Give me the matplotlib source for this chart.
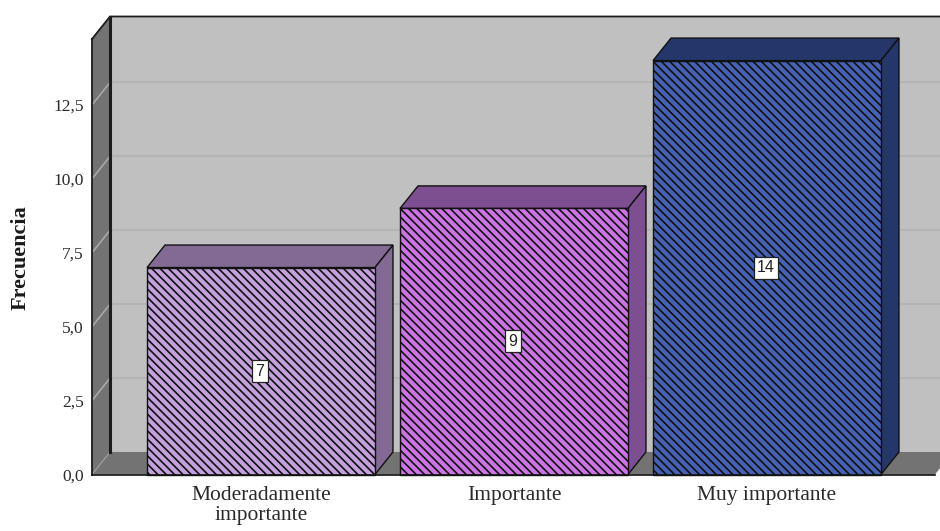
import matplotlib
matplotlib.use('Agg')
import matplotlib.pyplot as plt
from matplotlib.patches import Polygon

categories = ['Moderadamente\nimportante', 'Importante', 'Muy importante']
values = [7, 9, 14]
yticks = [0, 2.5, 5, 7.5, 10, 12.5]
ytick_labels = ['0,0', '2,5', '5,0', '7,5', '10,0', '12,5']

front_colors = ['#c4a0dc', '#cc74e4', '#4562b4']
shade_colors = ['#826a94', '#7e4f90', '#25366b']

# depth of the fake 3d box, in data units
DX = 0.0711
DY = 0.761
BAR_W = 0.901
X0, X1 = -0.668, 2.664
Y0, Y1 = 0, 14.73

plt.rcParams['font.family'] = ['Liberation Serif', 'DejaVu Serif']
plt.rcParams['hatch.linewidth'] = 1.2

fig = plt.figure(figsize=(9.4, 5.31), dpi=100)
ax = fig.add_axes([92/940, (531-474.5)/531, 843/940, (474.5-39)/531])
ax.set_xlim(X0, X1)
ax.set_ylim(Y0, Y1)
ax.set_facecolor('none')


def poly(pts, fc, ec='none', lw=0, z=1):
    ax.add_patch(Polygon(pts, closed=True, facecolor=fc, edgecolor=ec,
                         linewidth=lw, zorder=z, clip_on=False))


# back wall, side wall and floor
xb = X0 + DX
poly([(xb, DY), (X1 + DX, DY), (X1 + DX, Y1 + DY), (xb, Y1 + DY)], '#c0c0c0', z=1)
poly([(X0, 0), (xb, DY), (xb, Y1 + DY), (X0, Y1)], '#737373', z=1)
poly([(X0, 0), (X1, 0), (X1 + DX, DY), (xb, DY)], '#737373', z=1)

# grid lines run along the wall and down the side
for v in yticks[1:]:
    ax.plot([xb, X1 + DX], [v + DY, v + DY], color='#b4b4b4', lw=1.5, zorder=2, clip_on=False)
    ax.plot([X0, xb], [v, v + DY], color='#a8a8a8', lw=1.2, zorder=2, clip_on=False)
ax.plot([X0, xb], [0, DY], color='#a0a0a0', lw=0.8, zorder=2, clip_on=False)

# wall outline
ax.plot([xb, xb], [DY, Y1 + DY], color='#1c1c1c', lw=2.2, zorder=3, clip_on=False)
ax.plot([X0, xb, X1 + DX], [Y1, Y1 + DY, Y1 + DY], color='#1c1c1c', lw=1.3, zorder=3, clip_on=False)

for i, v in enumerate(values):
    l, r = i - BAR_W/2, i + BAR_W/2
    poly([(l, v), (r, v), (r + DX, v + DY), (l + DX, v + DY)], shade_colors[i], '#111111', 1.0, 4)
    poly([(r, 0), (r + DX, DY), (r + DX, v + DY), (r, v)], shade_colors[i], '#111111', 1.0, 4)
    ax.bar(i, v, width=BAR_W, color=front_colors[i], edgecolor='#111111', hatch='\\\\\\\\',
           linewidth=1.0, zorder=5, clip_on=False)
    ax.text(i - 0.004, v/2, str(v), ha='center', va='center', fontsize=11.5, zorder=6,
            family=['Liberation Sans', 'DejaVu Sans'], color='#222222',
            bbox=dict(facecolor='white', edgecolor='#222222', linewidth=0.9, boxstyle='square,pad=0.22'))

ax.set_xticks(range(len(categories)))
ax.set_xticklabels(categories, fontsize=15.5, linespacing=1.1, color='#2a2a2a')
ax.set_yticks(yticks)
ax.set_yticklabels(ytick_labels, fontsize=12.5, color='#2a2a2a')
ax.tick_params(length=0)
ax.tick_params(axis='x', pad=8)
ax.tick_params(axis='y', pad=6)

for s in ['top', 'right']:
    ax.spines[s].set_visible(False)
ax.spines['left'].set_color('#1c1c1c')
ax.spines['left'].set_zorder(3)
ax.spines['left'].set_linewidth(1.3)
ax.spines['bottom'].set_color('#111111')
ax.spines['bottom'].set_zorder(7)
ax.spines['bottom'].set_linewidth(1.2)

fig.text(21/940, 1 - 258/531, 'Frecuencia', rotation=90, ha='center', va='center',
         fontsize=16, fontweight='bold', color='#1a1a1a')

fig.savefig('out.png', dpi=100)
